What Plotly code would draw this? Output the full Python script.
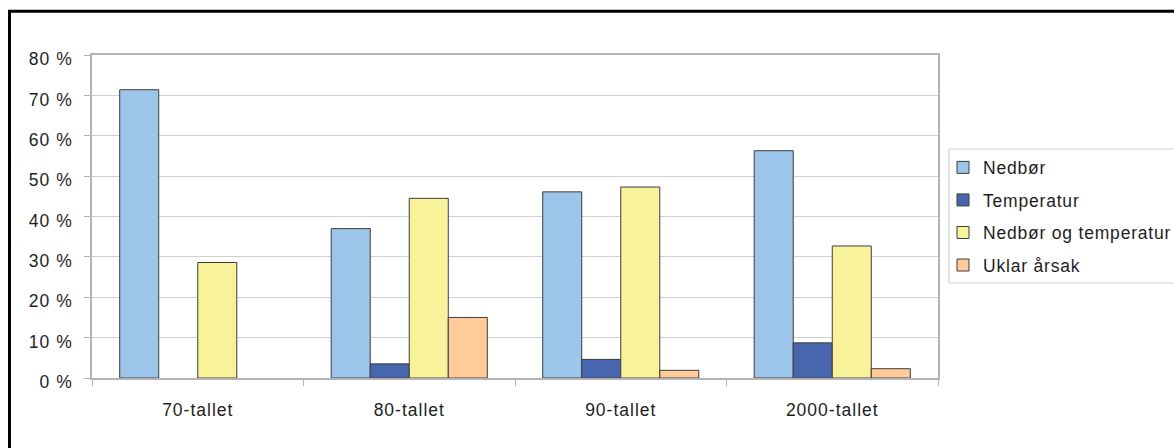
import plotly.graph_objects as go

# Decades on the x axis and the share of events per cause (percent)
categories = ["70-tallet", "80-tallet", "90-tallet", "2000-tallet"]
series_names = ["Nedbør", "Temperatur", "Nedbør og temperatur", "Uklar årsak"]
nedbor = [71.4, 37.0, 46.1, 56.3]
temperatur = [None, 3.5, 4.6, 8.7]
nedbor_og_temperatur = [28.6, 44.5, 47.3, 32.7]
uklar_arsak = [None, 15.0, 1.9, 2.3]
y_tick_values = [0, 10, 20, 30, 40, 50, 60, 70, 80]
y_tick_labels = ["0 %", "10 %", "20 %", "30 %", "40 %", "50 %", "60 %", "70 %", "80 %"]

series_values = [nedbor, temperatur, nedbor_og_temperatur, uklar_arsak]
colors = ["#9DC5E9", "#4866AE", "#F8F29B", "#FFCB98"]

W, H = 1174, 448
ML, MR, MT, MB = 92, 236, 55, 70
PW, PH = W - ML - MR, H - MT - MB


def px_x(p):
    return (p - ML) / PW


def px_y(p):
    return (H - MB - p) / PH


FONT = "Liberation Sans, Arial, sans-serif"
TEXT = "#1e1e1e"

fig = go.Figure()
for name, vals, col in zip(series_names, series_values, colors):
    fig.add_trace(go.Bar(
        x=categories, y=vals, name=name, legendgroup=name,
        marker=dict(color=col, line=dict(color="#3c3c3c", width=1)),
    ))

fig.update_layout(
    width=W, height=H,
    margin=dict(l=ML, r=MR, t=MT, b=MB, pad=0, autoexpand=False),
    paper_bgcolor="white", plot_bgcolor="white",
    barmode="group", bargap=0.262, bargroupgap=0,
    font=dict(family=FONT, size=17.5, color=TEXT),
    showlegend=True,
    legend=dict(
        x=px_x(943), y=px_y(149.5), xanchor="left", yanchor="top",
        bgcolor="rgba(0,0,0,0)", borderwidth=0,
        font=dict(family=FONT, size=17.5, color=TEXT),
        tracegroupgap=6.8, itemwidth=30,
    ),
    xaxis=dict(
        type="category", showline=True, linecolor="#b4b4b4", linewidth=1.5,
        mirror=True, ticks="outside", ticklen=6, tickcolor="#b4b4b4",
        tickson="boundaries", showgrid=False, ticklabelstandoff=15,
    ),
    yaxis=dict(
        range=[0, 80], tickvals=y_tick_values, ticktext=y_tick_labels,
        showline=True, linecolor="#b4b4b4", linewidth=1.5, mirror=True,
        ticks="outside", ticklen=6, tickcolor="#b4b4b4",
        showgrid=True, gridcolor="#cfcfcf", gridwidth=1,
        zeroline=False, ticklabelstandoff=8, ticklabelshift=4,
    ),
    shapes=[
        # legend frame, running past the right edge of the page
        dict(type="rect", xref="paper", yref="paper",
             x0=px_x(949), x1=px_x(1190), y0=px_y(283), y1=px_y(149),
             line=dict(color="#cfcfcf", width=1.2), fillcolor="rgba(0,0,0,0)",
             layer="below"),
        # outer black frame: top and left edges
        dict(type="line", xref="paper", yref="paper",
             x0=px_x(8), x1=px_x(1200), y0=px_y(11.3), y1=px_y(11.3),
             line=dict(color="black", width=3)),
        dict(type="line", xref="paper", yref="paper",
             x0=px_x(9.5), x1=px_x(9.5), y0=px_y(10), y1=px_y(470),
             line=dict(color="black", width=3)),
    ],
)

# slightly spaced lettering for the chart texts; the legend box is
# unclipped so the wider entries stay whole
spacing_js = """
var gd = document.querySelector('.plotly-graph-div');
function spaceText() {
  gd.querySelectorAll('.xtick text, .ytick text').forEach(function (t) {
    t.style.letterSpacing = '1px';
  });
  gd.querySelectorAll('.legendtext').forEach(function (t) {
    t.style.letterSpacing = '0.8px';
  });
  gd.querySelectorAll('.legend [clip-path]').forEach(function (e) {
    e.removeAttribute('clip-path');
  });
}
spaceText();
gd.on('plotly_afterplot', spaceText);
"""

fig.write_html("out.html", post_script=spacing_js)
